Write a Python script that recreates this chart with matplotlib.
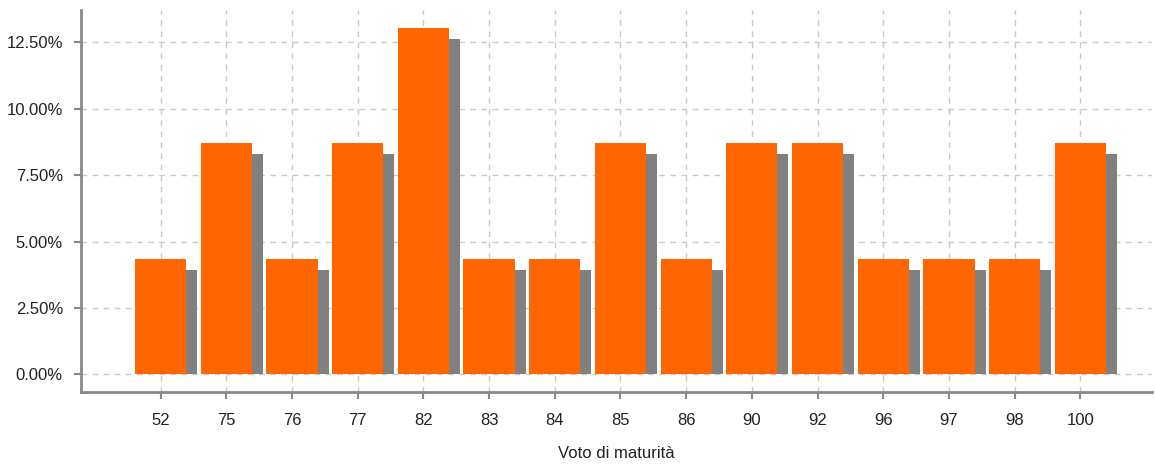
import matplotlib
matplotlib.use("Agg")
import matplotlib.pyplot as plt
from matplotlib.ticker import FuncFormatter, MultipleLocator
import numpy as np

categories = ["52", "75", "76", "77", "82", "83", "84", "85", "86", "90", "92", "96", "97", "98", "100"]
counts = [1, 2, 1, 2, 3, 1, 1, 2, 1, 2, 2, 1, 1, 1, 2]
total = sum(counts)
percent = [c / total * 100 for c in counts]

plt.rcParams['font.family'] = ['Liberation Sans', 'DejaVu Sans']

fig = plt.figure(figsize=(11.55, 4.65), dpi=100)
ax = fig.add_axes([81 / 1155, 1 - 392 / 465, (1152 - 81) / 1155, (392 - 10) / 465])

x = np.arange(len(categories))
width = 0.78
sx = 0.167
sy = 0.414

ax.bar(x + sx, [p - sy for p in percent], width=width, color="#808080", zorder=2)
ax.bar(x, percent, width=width, color="#ff6600", zorder=3)

ax.set_xlim(-1.21, 15.09)
ax.set_ylim(-0.659, 13.72)
ax.set_xticks(x)
ax.set_xticklabels(categories)
ax.yaxis.set_major_locator(MultipleLocator(2.5))
ax.yaxis.set_major_formatter(FuncFormatter(lambda v, p: f"{v:.2f}%"))

ax.grid(True, color="#c8c8c8", linestyle=(0, (4, 4)), linewidth=1, zorder=0)
ax.set_axisbelow(True)

for s in ["top", "right"]:
    ax.spines[s].set_visible(False)
for s in ["left", "bottom"]:
    ax.spines[s].set_color("#888888")
    ax.spines[s].set_linewidth(2)

ax.tick_params(axis="both", colors="#888888", width=1.5, length=5, labelsize=12, labelcolor="#222222")
ax.tick_params(axis="x", pad=10)
ax.tick_params(axis="y", pad=8)

ax.set_xlabel("Voto di maturità", fontsize=12, color="#222222", labelpad=13)

fig.savefig("out.png", dpi=100)
